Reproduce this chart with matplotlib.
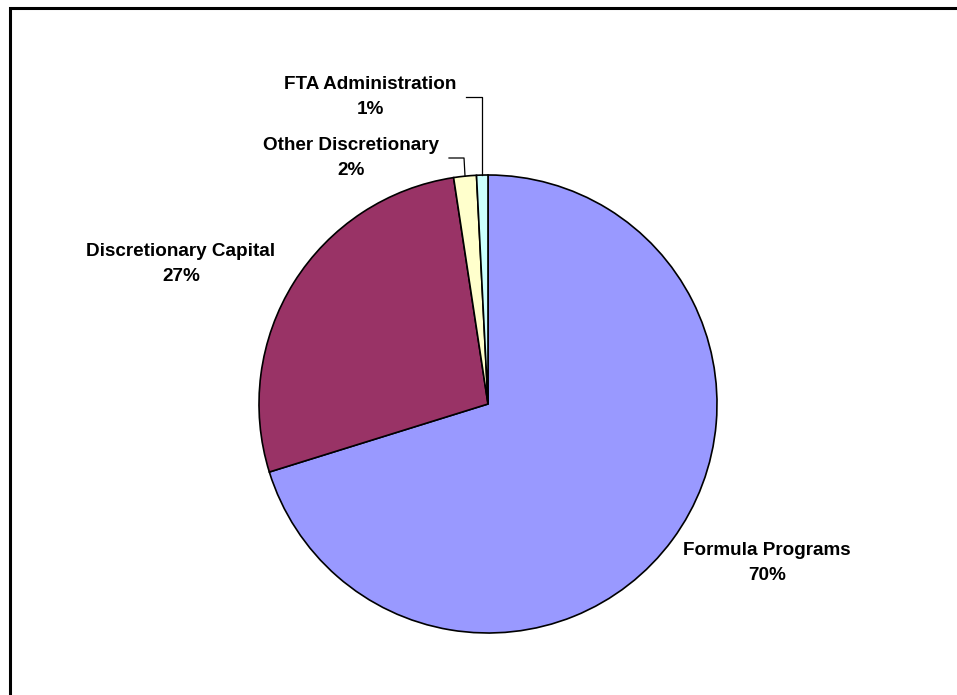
import numpy as np
import matplotlib.pyplot as plt
from matplotlib.patches import Rectangle

categories = ["Formula Programs", "Discretionary Capital", "Other Discretionary", "FTA Administration"]
shares = [70.2, 27.4, 1.6, 0.8]
colors = ["#9999FF", "#993366", "#FFFFCC", "#CCFFFF"]

# label positions in pixel space (y up), fig is 957x695
label_pos = [(767, 132), (181, 431), (351, 537), (370, 598)]

W, H = 957, 695
fig = plt.figure(figsize=(W / 100, H / 100), dpi=100)
ax = fig.add_axes([0, 0, 1, 1])

cx, cy, r = 488, H - 404, 229
wedges, _ = ax.pie(shares, colors=colors, startangle=90, counterclock=False,
                   center=(cx, cy), radius=r, frame=True,
                   wedgeprops=dict(edgecolor='black', linewidth=1.2))
ax.set_xlim(0, W)
ax.set_ylim(0, H)
ax.set_aspect('equal')
ax.axis('off')

# outer frame (cut off at right/bottom like the original)
ax.add_patch(Rectangle((10, -20), W + 20, H - 8 + 20, fill=False,
                       edgecolor='black', lw=2.2, clip_on=False))

font = dict(family='Liberation Sans', weight='bold', fontsize=13.6)
for name, share, (lx, ly) in zip(categories, shares, label_pos):
    ax.text(lx, ly, f"{name}\n{share:.0f}%", ha='center', va='center',
            linespacing=1.55, **font)

# leader lines for the two small slices
for w, ky, hx in [(wedges[2], H - 158, 449), (wedges[3], H - 97, 466)]:
    ang = np.deg2rad((w.theta1 + w.theta2) / 2)
    sx, sy = cx + r * np.cos(ang), cy + r * np.sin(ang)
    kx = sx - 1 if w is wedges[2] else sx
    ax.plot([sx, kx, hx], [sy, ky, ky], color='black', lw=0.9)

fig.savefig("out.png", dpi=100, facecolor='white')
